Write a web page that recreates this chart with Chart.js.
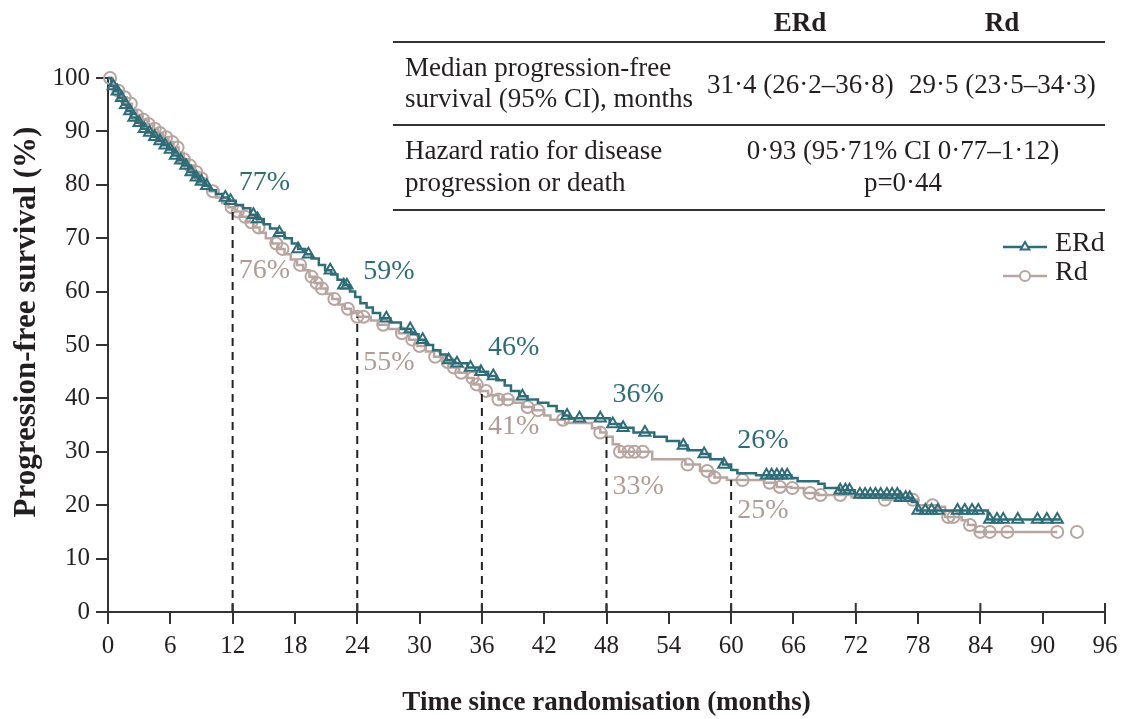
<!DOCTYPE html>
<html>
<head>
<meta charset="utf-8">
<script src="https://cdn.jsdelivr.net/npm/chart.js@4.4.0/dist/chart.umd.min.js"></script>
<style>
  body { margin: 0; background: #fff; }
  #wrap { position: relative; width: 1129px; height: 719px; font-family: "Liberation Serif", "Times New Roman", serif; color: #231f20; }
  #km { position: absolute; left: 0; top: 0; }
  .t { position: absolute; white-space: nowrap; font-size: 27px; line-height: 30px; }
  .c { text-align: center; width: 400px; }
  .b { font-weight: bold; }
  .rule { position: absolute; left: 393px; width: 712px; height: 2px; background: #333; }
</style>
</head>
<body>
<div id="wrap">
  <canvas id="km" width="1129" height="719"></canvas>

  <div class="t c b" style="left:600px; top:7px;">ERd</div>
  <div class="t c b" style="left:802px; top:7px;">Rd</div>
  <div class="rule" style="top:41px;"></div>
  <div class="t" style="left:405px; top:52px;">Median progression-free</div>
  <div class="t" style="left:405px; top:83px;">survival (95% CI), months</div>
  <div class="t" style="left:707px; top:69px;">31·4 (26·2–36·8)</div>
  <div class="t" style="left:909px; top:69px;">29·5 (23·5–34·3)</div>
  <div class="rule" style="top:124px;"></div>
  <div class="t" style="left:405px; top:135px;">Hazard ratio for disease</div>
  <div class="t" style="left:405px; top:167px;">progression or death</div>
  <div class="t c" style="left:703px; top:135px;">0·93 (95·71% CI 0·77–1·12)</div>
  <div class="t c" style="left:703px; top:167px;">p=0·44</div>
  <div class="rule" style="top:209px;"></div>
</div>

<script>
// Kaplan-Meier step points (month, % progression-free)
const erdTime = [0, 0.3, 0.6, 1.0, 1.4, 1.8, 2.2, 2.7, 3.2, 3.7, 4.2, 4.7, 5.2, 5.7, 6.2, 6.7, 7.2, 7.7, 8.2, 8.7,
  9.2, 9.8, 10.4, 11.0, 11.6, 12.3, 13.0, 13.7, 14.3, 15.0, 15.6, 16.3, 17.0, 17.7, 18.3, 19.0, 19.6, 20.3, 20.9, 21.5,
  22.1, 22.7, 23.3, 23.8, 24.3, 24.9, 25.5, 26.2, 27.2, 28.2, 29.2, 29.9, 30.6, 31.3, 32.0, 32.6, 33.4, 34.6, 35.8, 36.6,
  37.4, 38.2, 38.8, 39.6, 40.4, 41.4, 42.4, 43.2, 43.8, 44.4, 48.3, 49.4, 50.6, 52.6, 53.8, 55.0, 55.8, 57.2, 58.0, 59.2,
  60.0, 60.6, 62.4, 65.8, 66.4, 68.4, 69.0, 70.4, 71.9, 76.2, 77.4, 77.9, 84.7];
const erdSurv = [100, 98.5, 97.5, 96.3, 95.0, 93.8, 92.6, 91.6, 90.5, 89.8, 89.0, 88.2, 87.4, 86.6, 85.5, 84.6, 83.6, 82.4, 81.4, 80.6,
  79.8, 79.0, 78.3, 77.6, 77.0, 76.2, 75.6, 74.4, 73.6, 72.6, 71.8, 71.0, 70.0, 69.0, 68.0, 67.0, 66.2, 65.0, 64.0, 63.2,
  62.2, 61.2, 60.0, 59.0, 57.8, 57.0, 56.0, 55.0, 54.2, 53.0, 52.0, 51.0, 50.0, 49.0, 48.2, 47.2, 46.6, 45.8, 45.0, 44.2,
  43.4, 42.4, 41.4, 40.4, 39.8, 39.2, 38.6, 37.6, 36.8, 36.3, 35.2, 34.5, 33.6, 32.8, 32.0, 31.2, 30.3, 29.6, 28.6, 27.6,
  26.6, 26.0, 25.6, 25.1, 24.5, 24.0, 23.2, 22.8, 22.0, 21.4, 20.6, 19.0, 17.3];
const erdFollowEnd = 91.7;
const erdCensor = [0.5, 0.9, 1.3, 1.7, 2.1, 2.5, 3.0, 3.5, 4.0, 4.5, 5.0, 5.5, 6.0, 6.5, 7.0, 7.5, 8.0, 8.5, 9.0, 9.5,
  11.3, 11.8, 14.0, 14.4, 16.5, 18.3, 19.3, 21.4, 22.7, 23.0, 26.8, 29.1, 30.3, 32.8, 33.6, 34.9, 35.9, 37.1, 39.9,
  44.2, 45.4, 47.4, 48.6, 49.6, 51.7, 55.4, 57.4, 59.3, 63.4, 63.9, 64.4, 64.9, 65.4, 70.5, 71.0, 71.4, 72.4, 72.9,
  73.4, 73.9, 74.4, 75.0, 75.5, 76.0, 76.3, 76.8, 77.2, 78.0, 78.7, 79.3, 79.9, 81.8, 82.5, 83.2, 83.8, 84.9, 85.6,
  86.2, 87.6, 89.5, 90.4, 91.4];

const rdTime = [0, 0.4, 0.8, 1.3, 1.8, 2.3, 2.8, 3.3, 3.8, 4.3, 4.8, 5.3, 5.8, 6.3, 6.8, 7.3, 7.8, 8.3, 8.8, 9.3,
  9.8, 10.4, 11.0, 11.6, 12.2, 12.8, 13.4, 14.0, 14.6, 15.2, 15.8, 16.4, 17.0, 17.6, 18.2, 18.8, 19.4, 19.9, 20.5, 21.0,
  21.6, 22.2, 22.8, 23.4, 24.0, 25.3, 26.0, 27.0, 28.0, 29.0, 29.8, 30.6, 31.4, 32.2, 33.0, 33.8, 34.6, 35.2, 35.8, 36.6,
  37.6, 39.0, 40.0, 41.0, 42.0, 42.6, 44.0, 46.6, 47.4, 48.0, 48.6, 49.2, 52.4, 55.6, 57.0, 58.4, 59.6, 63.2, 64.4, 65.8,
  67.0, 68.4, 71.6, 74.6, 78.0, 80.0, 80.6, 82.2, 82.8, 83.5];
const rdSurv = [100, 98.8, 97.6, 96.4, 95.2, 94.0, 93.0, 92.2, 91.4, 90.5, 89.7, 88.9, 88.0, 87.0, 86.0, 84.8, 83.6, 82.4, 81.2, 80.0,
  78.8, 77.6, 76.6, 75.8, 75.0, 74.0, 73.0, 72.0, 71.0, 70.0, 69.0, 68.0, 67.0, 66.0, 65.0, 64.0, 62.8, 61.6, 60.6, 59.6,
  58.6, 57.6, 56.8, 56.0, 55.3, 54.6, 53.8, 53.0, 52.2, 51.0, 49.8, 48.8, 47.8, 46.8, 45.8, 44.8, 43.8, 42.6, 41.4, 40.6,
  39.8, 39.2, 38.4, 37.8, 36.8, 36.0, 35.4, 34.4, 33.6, 32.8, 31.4, 30.0, 28.6, 27.6, 26.4, 25.2, 24.7, 24.2, 23.4, 23.2,
  22.3, 21.9, 21.5, 21.0, 20.0, 19.7, 17.8, 17.2, 16.3, 15.0];
const rdFollowEnd = 91.4;
const rdCensor = [0.2, 1.0, 1.6, 2.2, 2.8, 3.4, 3.9, 4.5, 5.0, 5.6, 6.2, 6.7, 7.3, 7.9, 8.5, 9.0, 10.1, 11.9, 12.5,
  13.2, 13.8, 14.5, 16.2, 16.8, 18.5, 19.6, 20.1, 20.6, 21.8, 23.1, 24.0, 24.6, 26.5, 28.3, 29.3, 30.0, 31.5, 32.7,
  33.3, 34.0, 35.1, 35.5, 36.4, 37.6, 38.5, 40.4, 41.4, 43.8, 47.4, 49.3, 50.1, 50.7, 51.5, 55.8, 57.7, 58.4, 61.1,
  63.7, 64.7, 65.9, 67.6, 68.6, 70.5, 74.8, 77.5, 79.4, 80.9, 81.4, 83.0, 84.0, 84.9, 86.6, 91.4, 93.3];

const landmarkMonths = [12, 24, 36, 48, 60];
const erdLandmark = [77, 59, 46, 36, 26];
const rdLandmark = [76, 55, 41, 33, 25];

const TEAL = '#2e6d78';
const TAUPE = '#b8a59f';
const INK = '#231f20';

function survAt(times, surv, t) {
  let s = surv[0];
  for (let i = 0; i < times.length; i++) {
    if (times[i] <= t) s = surv[i]; else break;
  }
  return s;
}

function stepData(times, surv, end) {
  const pts = times.map((t, i) => ({ x: t, y: surv[i] }));
  pts.push({ x: end, y: surv[surv.length - 1] });
  return pts;
}

function censorData(times, surv, cens) {
  return cens.map(t => ({ x: t, y: survAt(times, surv, t) }));
}

// dashed landmark lines, % labels, inner major ticks, y title, legend
const kmExtras = {
  id: 'kmExtras',
  afterDatasetsDraw(chart, args, opts) {
    const ctx = chart.ctx;
    const xs = chart.scales.x, ys = chart.scales.y;
    const area = chart.chartArea;
    const bottom = area.bottom;
    ctx.save();

    ctx.strokeStyle = '#222';
    ctx.lineWidth = 2;
    ctx.setLineDash([8, 6]);
    landmarkMonths.forEach(m => {
      const top = Math.min(survAt(rdTime, rdSurv, m), survAt(erdTime, erdSurv, m));
      const px = xs.getPixelForValue(m);
      ctx.beginPath();
      ctx.moveTo(px, bottom);
      ctx.lineTo(px, ys.getPixelForValue(top));
      ctx.stroke();
    });
    ctx.setLineDash([]);

    ctx.font = '28px "Liberation Serif", serif';
    ctx.textAlign = 'left';
    ctx.textBaseline = 'middle';
    landmarkMonths.forEach((m, i) => {
      const px = xs.getPixelForValue(m) + 6;
      ctx.fillStyle = TEAL;
      ctx.fillText(erdLandmark[i] + '%', px, ys.getPixelForValue(erdLandmark[i]) + opts.erdDy[i]);
      ctx.fillStyle = '#b09c96';
      ctx.fillText(rdLandmark[i] + '%', px, ys.getPixelForValue(rdLandmark[i]) + opts.rdDy[i]);
    });

    // major ticks every 12 months poke up into the plot
    ctx.strokeStyle = '#333';
    ctx.lineWidth = 2;
    for (let m = 12; m <= 96; m += 12) {
      const px = xs.getPixelForValue(m);
      ctx.beginPath();
      ctx.moveTo(px, bottom);
      ctx.lineTo(px, bottom - 9);
      ctx.stroke();
    }
    // y axis runs a little below zero
    ctx.beginPath();
    ctx.moveTo(area.left, bottom);
    ctx.lineTo(area.left, bottom + 8);
    ctx.stroke();

    // y axis title, sitting a bit above the middle as in the original
    ctx.save();
    ctx.translate(opts.yTitle.x, (area.top + area.bottom) / 2 + opts.yTitle.dy);
    ctx.rotate(-Math.PI / 2);
    ctx.font = 'bold 31px "Liberation Serif", serif';
    ctx.fillStyle = INK;
    ctx.textAlign = 'center';
    ctx.textBaseline = 'middle';
    ctx.fillText('Progression-free survival (%)', 0, 0);
    ctx.restore();

    // legend
    const lg = opts.legend;
    [[ 'ERd', TEAL, 'triangle' ], [ 'Rd', TAUPE, 'circle' ]].forEach((item, i) => {
      const y = lg.y + i * lg.gap;
      ctx.strokeStyle = item[1];
      ctx.lineWidth = 2.5;
      ctx.beginPath();
      ctx.moveTo(lg.x, y);
      ctx.lineTo(lg.x + lg.len, y);
      ctx.stroke();
      ctx.lineWidth = 2;
      ctx.fillStyle = '#fff';
      Chart.helpers.drawPoint(ctx, { pointStyle: item[2], radius: 5, borderWidth: 2 }, lg.x + lg.len / 2, y);
      ctx.fillStyle = INK;
      ctx.font = '28px "Liberation Serif", serif';
      ctx.textAlign = 'left';
      ctx.textBaseline = 'middle';
      ctx.fillText(item[0], lg.x + lg.len + 8, y - 3);
    });
    ctx.restore();
  }
};

Chart.defaults.font.family = '"Liberation Serif", "Times New Roman", serif';
Chart.defaults.color = INK;

const canvas = document.getElementById('km');
const ctx = canvas.getContext('2d');

new Chart(ctx, {
  type: 'line',
  data: {
    datasets: [
      {
        label: 'ERd censored',
        type: 'scatter',
        data: censorData(erdTime, erdSurv, erdCensor),
        pointStyle: 'triangle',
        pointRadius: 6.5,
        pointBorderWidth: 2,
        borderColor: TEAL,
        backgroundColor: 'rgba(255,255,255,0)',
        showLine: false,
        clip: false
      },
      {
        label: 'ERd',
        data: stepData(erdTime, erdSurv, erdFollowEnd),
        stepped: true,
        borderColor: TEAL,
        borderWidth: 2.5,
        pointRadius: 0,
        fill: false,
        clip: false
      },
      {
        label: 'Rd censored',
        type: 'scatter',
        data: censorData(rdTime, rdSurv, rdCensor),
        pointStyle: 'circle',
        pointRadius: 6,
        pointBorderWidth: 2,
        borderColor: TAUPE,
        backgroundColor: 'rgba(255,255,255,0)',
        showLine: false,
        clip: false
      },
      {
        label: 'Rd',
        data: stepData(rdTime, rdSurv, rdFollowEnd),
        stepped: true,
        borderColor: TAUPE,
        borderWidth: 2.5,
        pointRadius: 0,
        fill: false,
        clip: false
      }
    ]
  },
  options: {
    responsive: false,
    animation: false,
    layout: { padding: { top: 78, right: 24, left: 0, bottom: 0 } },
    plugins: {
      legend: { display: false },
      tooltip: { enabled: false },
      kmExtras: {
        erdDy: [-18, -25, -19, -25, -33],
        rdDy: [64, 44, 34, 51, 32],
        legend: { x: 1003, y: 247, len: 44, gap: 29 },
        yTitle: { x: 27, dy: -23 }
      }
    },
    scales: {
      x: {
        type: 'linear',
        min: 0,
        max: 96,
        afterFit: s => { s.height = 107; },
        ticks: { stepSize: 6, padding: 7, font: { size: 25 }, color: INK, maxRotation: 0 },
        grid: { drawOnChartArea: false, drawTicks: true, tickLength: 12, color: '#333', lineWidth: 2 },
        border: { display: true, color: '#333', width: 2 },
        title: {
          display: true,
          text: 'Time since randomisation (months)',
          font: { size: 27, weight: 'bold', lineHeight: 1.0 },
          color: INK,
          padding: { top: 0, bottom: 2 }
        }
      },
      y: {
        min: 0,
        max: 100,
        afterFit: s => { s.width = 108; },
        ticks: { stepSize: 10, padding: 6, font: { size: 25 }, color: INK },
        grid: { drawOnChartArea: false, drawTicks: true, tickLength: 12, color: '#333', lineWidth: 2 },
        border: { display: true, color: '#333', width: 2 },
        title: { display: false }
      }
    }
  },
  plugins: [kmExtras]
});
</script>
</body>
</html>
